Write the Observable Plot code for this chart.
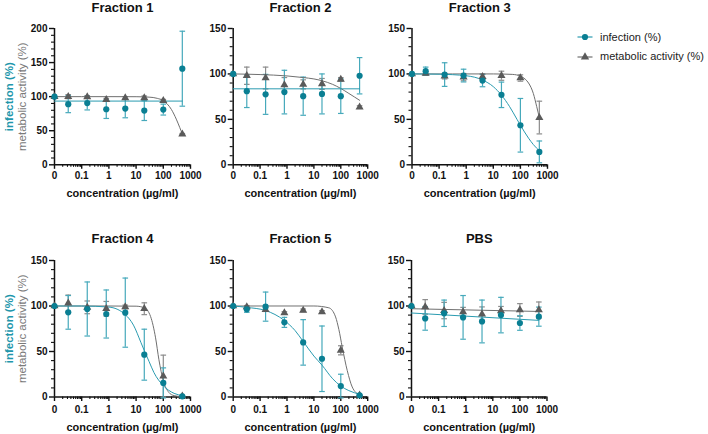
<!DOCTYPE html>
<html><head><meta charset="utf-8">
<script src="https://cdn.jsdelivr.net/npm/d3@7"></script>
<script src="https://cdn.jsdelivr.net/npm/@observablehq/plot@0.6"></script>
<style>
body{margin:0;background:#fff;}
#root{position:relative;width:708px;height:434px;overflow:hidden;font-family:"Liberation Sans",Arial,sans-serif;background:#fff;}
.panel{position:absolute;}
.leg{position:absolute;font-size:11px;color:#222;line-height:12px;white-space:nowrap;}
.legsym{position:absolute;}
</style></head><body><div id="root"></div>
<script>
// concentrations (µg/ml); 0 = untreated control, drawn at the "0" position of the axis
const conc = [0, 0.032, 0.16, 0.8, 4, 20, 100, 500];
const zeroAt = 0.01;
const xTickValues = [0.01, 0.1, 1, 10, 100, 1000];
const xTickLabels = ["0", "0.1", "1", "10", "100", "1000"];
const titles = ["Fraction 1", "Fraction 2", "Fraction 3", "Fraction 4", "Fraction 5", "PBS"];
const seriesNames = ["infection (%)", "metabolic activity (%)"];
const xTitle = "concentration (µg/ml)";

// Fraction 1
const f1Inf = [100, 89, 90.5, 81.5, 82.5, 79.5, 81, 141];
const f1InfErr = [0, 12.5, 10, 13.5, 13.5, 14.5, 8, 55];
const f1Met = [100, 100, 99.5, 95.5, 98, 98, 94, 45];
const f1MetErr = [0, 3, 2, 2, 2, 3, 2, 1];
const f1InfFit = [[0.01, 93.5], [500, 93.5]];
const f1MetFit = [[0.01, 100], [1, 100], [10, 99.9], [30, 99.3], [60, 97.5], [100, 94], [200, 81], [300, 67], [400, 55], [500, 45]];
// Fraction 2
const f2Inf = [100, 81, 77.5, 80, 75.5, 78, 75.5, 98];
const f2InfErr = [0, 18, 22, 24, 21, 22, 19, 20];
const f2Met = [100, 98, 95.5, 88, 88.5, 89, 94, 63.5];
const f2MetErr = [0, 9.5, 12, 8, 5, 6, 2, 1.5];
const f2InfFit = [[0.01, 83.6], [500, 83.6]];
const f2MetFit = [[0.01, 100], [0.1, 99.3], [1, 97.8], [4, 96], [10, 94.5], [20, 92.5], [50, 88.5], [100, 84], [200, 78.5], [500, 71]];
// Fraction 3
const f3Inf = [100, 103, 99.3, 98.2, 92.7, 77, 43.5, 14.2];
const f3InfErr = [0, 4.5, 13, 7, 6.8, 14, 29.5, 12];
const f3Met = [100, 100.5, 97.5, 96.5, 97, 98, 95.5, 52];
const f3MetErr = [0, 2, 3, 4, 3, 5, 3.5, 18];
const f3InfFit = [[0.01, 100], [0.1, 99.7], [1, 98], [4, 93.3], [10, 86], [20, 76.7], [40, 64], [75, 50], [100, 43.6], [200, 29.3], [300, 22.3], [500, 15.4]];
const f3MetFit = [[0.01, 100], [10, 100], [50, 99.5], [100, 97.6], [150, 94.3], [200, 90], [300, 78.5], [400, 64], [500, 52]];
// Fraction 4
const f4Inf = [100, 93, 96.7, 91.2, 92.7, 46.5, 15.5, 0.7];
const f4InfErr = [0, 18.5, 29.7, 26.4, 38, 28, 16.5, 0.5];
const f4Met = [100, 103, 98.5, 97, 99, 97, 23, 1];
const f4MetErr = [0, 9, 7, 8, 2, 6.5, 23, 0.5];
const f4InfFit = [[0.01, 100], [0.1, 100], [1, 98.8], [4, 90.5], [8, 79], [15, 60], [20, 51], [30, 39], [45, 27], [100, 12.5], [250, 4], [500, 1.5]];
const f4MetFit = [[0.01, 100], [1, 100], [10, 99.8], [20, 98], [34, 88.5], [52, 65], [69, 41], [100, 18], [160, 5], [250, 1.5], [500, 0.3]];
// Fraction 5
const f5Inf = [100, 96.3, 99.3, 82, 60, 42, 12, 1.8];
const f5InfErr = [0, 3.2, 16, 5.5, 25, 36, 13, 0.5];
const f5Met = [100, 99, 96, 92.3, 95.2, 93.4, 51.3, 2];
const f5MetErr = [0, 1.5, 2, 1.5, 1.5, 1.5, 5, 0.5];
const f5InfFit = [[0.01, 100], [0.032, 98.5], [0.16, 95], [0.8, 84], [2, 73], [4, 61], [10, 45], [20, 35], [50, 20], [100, 12], [200, 7], [500, 3]];
const f5MetFit = [[0.01, 100], [1, 100], [10, 100], [36, 98], [64, 88], [85, 74], [113, 55], [174, 29], [266, 11], [500, 2]];
// PBS
const f6Inf = [100, 86.4, 92, 87.5, 83, 90, 81.3, 88.3];
const f6InfErr = [0, 13, 14.5, 24, 23.5, 19.5, 8, 10.5];
const f6Met = [100, 99, 95, 93.5, 91, 94.5, 95.6, 95.6];
const f6MetErr = [0, 8, 9, 5, 8, 5, 7, 8.8];
const f6InfFit = [[0.01, 92.3], [500, 84.2]];
const f6MetFit = [[0.01, 97], [500, 94]];

const TEAL = "#0a7f93", TEAL_ERR = "#46a9bb", TEAL_LINE = "#2a9bb0", TEAL_TXT = "#2196ab";
const GRAY = "#5a5a5a", GRAY_ERR = "#8c8c8c", GRAY_LINE = "#6f6f6f", GRAY_TXT = "#7a7a7a";
const FONT = '"Liberation Sans", Arial, sans-serif';

const cap = {draw(ctx, size) { const r = Math.sqrt(size / Math.PI); ctx.moveTo(-r, 0); ctx.lineTo(r, 0); }};

const layout = [
  {left: 0, top: 0, ml: 54, pw: 136, row: 0, yMax: 200, ylab: true},
  {left: 200, top: 0, ml: 32.7, pw: 134.5, row: 0, yMax: 150},
  {left: 380, top: 0, ml: 31.5, pw: 135.5, row: 0, yMax: 150},
  {left: 0, top: 228, ml: 54, pw: 136, row: 1, yMax: 150, ylab: true},
  {left: 200, top: 228, ml: 32.7, pw: 134.5, row: 1, yMax: 150},
  {left: 380, top: 228, ml: 31, pw: 135.5, row: 1, yMax: 150}
];
const data = [
  [f1Inf, f1InfErr, f1Met, f1MetErr, f1InfFit, f1MetFit],
  [f2Inf, f2InfErr, f2Met, f2MetErr, f2InfFit, f2MetFit],
  [f3Inf, f3InfErr, f3Met, f3MetErr, f3InfFit, f3MetFit],
  [f4Inf, f4InfErr, f4Met, f4MetErr, f4InfFit, f4MetFit],
  [f5Inf, f5InfErr, f5Met, f5MetErr, f5InfFit, f5MetFit],
  [f6Inf, f6InfErr, f6Met, f6MetErr, f6InfFit, f6MetFit]
];

const minorX = d3.range(-2, 3).flatMap(e => d3.range(2, 10).map(k => k * Math.pow(10, e)));

function panel(k) {
  const L = layout[k];
  const [inf, infErr, met, metErr, infFit, metFit] = data[k];
  const rows = conc.map((c, i) => ({x: c === 0 ? zeroAt : c, inf: inf[i], ie: infErr[i], met: met[i], me: metErr[i]}));
  const iErr = rows.filter(d => d.ie > 0), mErr = rows.filter(d => d.me > 0);
  const iFit = infFit.map(([x, y]) => ({x, y})), mFit = metFit.map(([x, y]) => ({x, y}));
  const yMajor = d3.range(0, L.yMax + 1, 50), yMinor = d3.range(0, L.yMax + 1, 10).filter(v => v % 50);
  const top = L.row === 0 ? 28 : 32, height = L.row === 0 ? 200 : 206, bottom = L.row === 0 ? 35.7 : 37.5;
  const mr = 16;
  const marks = [
    Plot.axisX({ticks: minorX, tickSize: 2.5, tickFormat: () => "", strokeWidth: 1.1, stroke: "#111", label: null}),
    Plot.axisX({ticks: xTickValues, tickSize: 4.5, tickPadding: L.row === 0 ? 2.5 : 4, strokeWidth: 1.4, stroke: "#111",
      tickFormat: d => xTickLabels[xTickValues.indexOf(d)], fontSize: 10, fontWeight: "bold", fill: "#111", label: null}),
    Plot.axisY({ticks: yMinor, tickSize: 3, tickFormat: () => "", strokeWidth: 1.1, stroke: "#111", label: null}),
    Plot.axisY({ticks: yMajor, tickSize: 5, tickPadding: 2, strokeWidth: 1.4, stroke: "#111", fontSize: 10, fontWeight: "bold", fill: "#111", label: null}),
    Plot.ruleY([0], {stroke: "#111", strokeWidth: 1.5}),
    Plot.ruleX([zeroAt], {stroke: "#111", strokeWidth: 1.5}),
    Plot.ruleX(mErr, {x: "x", y1: d => d.met - d.me, y2: d => d.met + d.me, stroke: GRAY_ERR, strokeWidth: 1.2}),
    Plot.dot(mErr, {x: "x", y: d => d.met + d.me, symbol: cap, r: 2.8, stroke: GRAY_ERR, fill: "none", strokeWidth: 1.2}),
    Plot.dot(mErr, {x: "x", y: d => d.met - d.me, symbol: cap, r: 2.8, stroke: GRAY_ERR, fill: "none", strokeWidth: 1.2}),
    Plot.ruleX(iErr, {x: "x", y1: d => d.inf - d.ie, y2: d => d.inf + d.ie, stroke: TEAL_ERR, strokeWidth: 1.2}),
    Plot.dot(iErr, {x: "x", y: d => d.inf + d.ie, symbol: cap, r: 2.8, stroke: TEAL_ERR, fill: "none", strokeWidth: 1.2}),
    Plot.dot(iErr, {x: "x", y: d => d.inf - d.ie, symbol: cap, r: 2.8, stroke: TEAL_ERR, fill: "none", strokeWidth: 1.2}),
    Plot.line(mFit, {x: "x", y: "y", stroke: GRAY_LINE, strokeWidth: 1, curve: "monotone-x"}),
    Plot.line(iFit, {x: "x", y: "y", stroke: TEAL_LINE, strokeWidth: 1, curve: "monotone-x"}),
    Plot.dot(rows, {x: "x", y: "met", symbol: "triangle", r: 3, fill: GRAY, stroke: "none"}),
    Plot.dot(rows, {x: "x", y: "inf", symbol: "circle", r: 3.1, fill: TEAL, stroke: "none"}),
    Plot.text([titles[k]], {frameAnchor: "top", dy: L.row === 0 ? -21 : -22, fontSize: 13, fontWeight: "bold", fill: "#111", lineAnchor: "middle"}),
    Plot.text([xTitle], {frameAnchor: "bottom", dy: L.row === 0 ? 28.5 : 30.8, fontSize: 11, fontWeight: "bold", fill: "#111", lineAnchor: "middle"})
  ];
  if (L.ylab) {
    marks.push(Plot.text([seriesNames[0]], {frameAnchor: "left", dx: 8.5 - L.ml, rotate: -90, textAnchor: "middle", fontSize: 11.5, fontWeight: "bold", fill: TEAL_TXT, lineAnchor: "middle"}));
    marks.push(Plot.text([seriesNames[1]], {frameAnchor: "left", dx: 21.5 - L.ml, rotate: -90, textAnchor: "middle", fontSize: 11.5, fontWeight: "normal", fill: GRAY_TXT, lineAnchor: "middle"}));
  }
  const svg = Plot.plot({
    width: L.ml + L.pw + mr, height, marginLeft: L.ml, marginRight: mr, marginTop: top, marginBottom: bottom,
    x: {type: "log", domain: [zeroAt, 1000]},
    y: {domain: [0, L.yMax]},
    style: {fontFamily: FONT, fontSize: "10px", color: "#111", background: "transparent", overflow: "visible"},
    marks
  });
  const div = document.createElement("div");
  div.className = "panel";
  div.style.left = L.left + "px";
  div.style.top = L.top + "px";
  div.appendChild(svg);
  return div;
}

const root = document.getElementById("root");
for (let k = 0; k < 6; k++) root.appendChild(panel(k));

// legend
const legendRows = [
  {name: seriesNames[0], color: TEAL_LINE, fill: TEAL, sym: "circle", y: 37},
  {name: seriesNames[1], color: GRAY_LINE, fill: GRAY, sym: "triangle", y: 56.5}
];
for (const r of legendRows) {
  const s = document.createElementNS("http://www.w3.org/2000/svg", "svg");
  s.setAttribute("width", 18); s.setAttribute("height", 12);
  s.setAttribute("class", "legsym");
  s.style.left = "575.5px"; s.style.top = (r.y - 6) + "px";
  const ln = document.createElementNS(s.namespaceURI, "line");
  ln.setAttribute("x1", 1.5); ln.setAttribute("x2", 16.5); ln.setAttribute("y1", 6); ln.setAttribute("y2", 6);
  ln.setAttribute("stroke", r.color); ln.setAttribute("stroke-width", 1.2);
  s.appendChild(ln);
  const p = document.createElementNS(s.namespaceURI, "path");
  const symType = r.sym === "circle" ? d3.symbolCircle : d3.symbolTriangle;
  p.setAttribute("d", d3.symbol(symType, Math.PI * 3.1 * 3.1)());
  p.setAttribute("transform", "translate(9,6)");
  p.setAttribute("fill", r.fill);
  s.appendChild(p);
  root.appendChild(s);
  const t = document.createElement("div");
  t.className = "leg";
  t.textContent = r.name;
  t.style.left = "600px"; t.style.top = (r.y - 6.5) + "px";
  root.appendChild(t);
}
</script></body></html>
